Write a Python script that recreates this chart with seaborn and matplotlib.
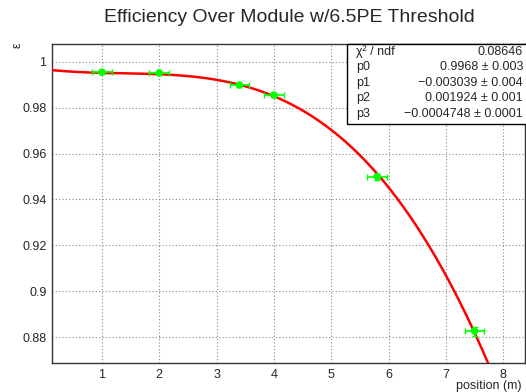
import numpy as np
import pandas as pd
import matplotlib
matplotlib.use("Agg")
import matplotlib.pyplot as plt
from matplotlib.patches import Rectangle
from matplotlib.ticker import MultipleLocator
import seaborn as sns

# measured efficiency points
position = [1.0, 2.0, 3.4, 4.0, 5.8, 7.5]
efficiency = [0.9955, 0.9952, 0.9899, 0.9855, 0.9500, 0.8826]
pos_err = [0.17, 0.17, 0.17, 0.17, 0.18, 0.17]
eff_err = [0.0008, 0.0008, 0.0009, 0.0009, 0.0013, 0.0020]

# pol3 fit parameters from the stats box
fit_params = [0.9968, -0.003039, 0.001924, -0.0004748]
stat_names = ["p0", "p1", "p2", "p3"]
stat_values = ["0.9968 \u00b1 0.003", "\u22120.003039 \u00b1 0.004",
               "0.001924 \u00b1 0.001", "\u22120.0004748 \u00b1 0.0001"]
chi2_text = "0.08646"

sns.set_style("white")
plt.rcParams["font.family"] = ["Liberation Sans", "DejaVu Sans"]

fig = plt.figure(figsize=(5.26, 3.92), dpi=100)
ax = fig.add_axes([52 / 526, 1 - 363 / 392, 473 / 526, 319 / 392])

# fit curve
xs = np.linspace(0.0, 8.5, 300)
fit = pd.DataFrame({"x": xs, "y": np.polyval(fit_params[::-1], xs)})
sns.lineplot(data=fit, x="x", y="y", color="red", linewidth=1.8, ax=ax, zorder=3)

# data points with error bars
ax.errorbar(position, efficiency, xerr=pos_err, yerr=eff_err, fmt="none",
            ecolor="#00ff00", elinewidth=1.2, capsize=2, zorder=4)
pts = pd.DataFrame({"position": position, "efficiency": efficiency})
sns.scatterplot(data=pts, x="position", y="efficiency", color="#00ff00",
                s=30, edgecolor="none", ax=ax, zorder=5)

ax.set_xlim(0.13, 8.38)
ax.set_ylim(0.8687, 1.0078)
ax.xaxis.set_major_locator(MultipleLocator(1))
ax.xaxis.set_minor_locator(MultipleLocator(0.2))
ax.yaxis.set_major_locator(MultipleLocator(0.02))
ax.yaxis.set_minor_locator(MultipleLocator(0.004))
ax.set_yticks(np.arange(0.88, 1.001, 0.02))
ax.set_yticklabels(["0.88", "0.9", "0.92", "0.94", "0.96", "0.98", "1"])
ax.tick_params(which="major", direction="in", length=9, width=1, color="#333333",
               labelsize=9, pad=4)
ax.tick_params(axis="y", which="major", length=15)
ax.tick_params(which="minor", direction="in", length=5, width=1, color="#333333")
ax.tick_params(axis="y", which="minor", length=8)
ax.grid(True, which="major", linestyle=(0, (1, 2)), color="#888888", linewidth=0.8)
for s in ax.spines.values():
    s.set_color("#333333")
    s.set_linewidth(1)
ax.set_xlabel("")
ax.set_ylabel("")

fig.text(289 / 526, 1 - 18 / 392, "Efficiency Over Module w/6.5PE Threshold",
         ha="center", va="center", fontsize=14)
fig.text(18 / 526, 1 - 45 / 392, "\u03b5", rotation=90, ha="center", va="center",
         fontsize=9)
fig.text(522 / 526, 1 - 386 / 392, "position (m)", ha="right", va="center",
         fontsize=9)

# stats box
box = Rectangle((347 / 526, 1 - 124 / 392), 200 / 526, 80 / 392,
                transform=fig.transFigure, facecolor="white", edgecolor="black",
                linewidth=1, zorder=10)
fig.patches.append(box)
rows_y = [52, 67, 83, 98, 114]
fig.text(356 / 526, 1 - rows_y[0] / 392, "\u03c7\u00b2 / ndf", ha="left",
         va="center", fontsize=9, zorder=11)
fig.text(523 / 526, 1 - rows_y[0] / 392, chi2_text, ha="right", va="center",
         fontsize=9, zorder=11)
for yy, name, val in zip(rows_y[1:], stat_names, stat_values):
    fig.text(356 / 526, 1 - yy / 392, name, ha="left", va="center", fontsize=9,
             zorder=11)
    fig.text(523 / 526, 1 - yy / 392, val, ha="right", va="center", fontsize=9,
             zorder=11)

fig.savefig("out.png", dpi=100)
